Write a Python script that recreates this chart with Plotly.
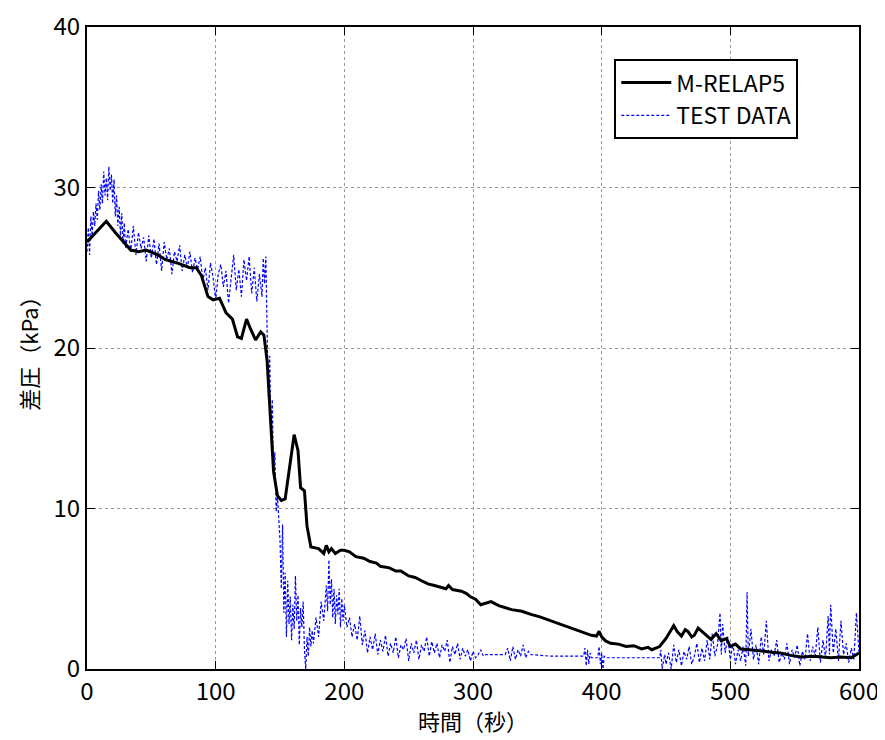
import plotly.graph_objects as go

# M-RELAP5 (black solid)
relap_t = [0, 6, 15, 22, 34, 40, 46, 55, 61, 70, 80, 85, 89, 94, 98, 103, 108, 113, 117, 120, 124,
           127, 131, 135, 137.5, 140, 143, 145, 148, 151, 154, 157, 161, 164, 166, 169, 171, 174,
           180, 184, 186, 188, 190, 193, 197, 200, 204, 209, 215, 220, 225, 228, 235, 240, 244, 250,
           255, 260, 265, 270, 275, 279, 281, 284, 291, 295, 298, 302, 306, 310, 314, 320, 330, 338,
           345, 352, 361, 368, 376, 384, 392, 396, 398, 400, 403, 407, 413, 419, 425, 431, 436, 439,
           445, 450, 456, 459, 462, 465, 467, 470, 472, 475, 477, 481, 485, 489, 493, 497, 500, 504,
           508, 515, 524, 532, 539, 547, 555, 565, 578, 586, 594, 600]
relap_y = [26.6, 27.1, 27.9, 27.2, 26.1, 26.0, 26.1, 25.8, 25.5, 25.3, 25.0, 25.0, 24.5, 23.2,
           23.0, 23.1, 22.2, 21.8, 20.7, 20.6, 21.8, 21.2, 20.5, 21.0, 20.8, 19.2, 15.4, 12.3, 10.8,
           10.5, 10.6, 12.3, 14.6, 13.6, 11.3, 11.1, 8.9, 7.6, 7.5, 7.2, 7.7, 7.3, 7.5, 7.2, 7.4,
           7.4, 7.3, 7.0, 6.9, 6.7, 6.6, 6.4, 6.3, 6.1, 6.1, 5.8, 5.7, 5.5, 5.3, 5.2, 5.1, 5.0, 5.2,
           4.95, 4.85, 4.7, 4.5, 4.35, 4.0, 4.1, 4.2, 3.95, 3.7, 3.6, 3.4, 3.25, 3.0, 2.8, 2.55,
           2.35, 2.1, 2.05, 2.35, 2.0, 1.75, 1.6, 1.55, 1.4, 1.45, 1.25, 1.35, 1.2, 1.4, 1.9, 2.7,
           2.3, 2.05, 2.45, 2.35, 2.0, 2.1, 2.55, 2.4, 2.1, 1.85, 2.2, 1.75, 1.9, 1.4, 1.55, 1.25,
           1.2, 1.1, 1.05, 1.0, 0.85, 0.75, 0.8, 0.7, 0.75, 0.7, 1.0]

# TEST DATA (blue dashed)
test_t = [0, 1, 2, 3, 4, 5, 6, 7, 8, 9, 10, 11, 12, 13, 14, 15, 16, 17, 18, 19, 20, 21, 22, 23, 24,
          25, 26, 27, 28, 29, 30, 32, 34, 36, 38, 40, 42, 44, 46, 48, 50, 52, 54, 56, 58, 60, 62, 64,
          66, 68, 70, 72, 74, 76, 78, 80, 82, 84, 86, 88, 90, 92, 94, 96, 98, 100, 102, 104, 106, 108,
          110, 112, 114, 116, 118, 120, 122, 124, 126, 128, 130, 132, 134, 136, 137, 138, 139, 140,
          141, 142, 143, 144, 145, 146, 147, 148, 149, 150, 151, 152, 153, 154, 155, 156, 157, 158,
          159, 160, 161, 162, 163, 164, 165, 166, 167, 168, 169, 170, 171, 172, 173, 174, 175, 176,
          178, 180, 182, 184, 186, 187, 188, 189, 190, 191, 192, 193, 194, 195, 196, 197, 198, 199,
          200, 202, 204, 206, 208, 210, 212, 214, 216, 218, 220, 222, 224, 226, 228, 230, 232, 234,
          236, 238, 240, 242, 244, 246, 248, 250, 252, 254, 256, 258, 260, 262, 264, 266, 268, 270,
          272, 274, 276, 278, 280, 282, 284, 286, 288, 290, 292, 294, 296, 298, 300, 302, 304, 306,
          308, 310, 325, 327, 329, 331, 333, 335, 337, 339, 341, 343, 345, 360, 375, 386, 387, 388,
          389, 390, 391, 392, 397, 398, 399, 400, 401, 402, 404, 420, 445, 446, 447, 449, 450, 452,
          454, 456, 458, 460, 462, 464, 466, 468, 470, 472, 474, 476, 478, 480, 482, 484, 486, 488,
          490, 492, 493, 494, 496, 498, 500, 502, 504, 506, 508, 510, 512, 513, 514, 516, 518, 520,
          522, 524, 526, 528, 530, 532, 534, 536, 538, 540, 542, 544, 546, 548, 550, 552, 554, 556,
          558, 560, 562, 564, 566, 568, 570, 572, 574, 576, 577, 578, 580, 582, 584, 586, 588, 590,
          592, 594, 596, 598, 600]
test_y = [26.0, 27.5, 25.8, 28.2, 27.0, 28.5, 27.6, 29.0, 28.0, 29.8, 28.6, 30.2, 29.0, 31.0, 29.5,
          30.6, 29.2, 31.3, 29.8, 30.8, 29.0, 30.5, 28.2, 29.5, 27.6, 28.8, 27.0, 28.4, 26.5, 27.8,
          26.2, 27.4, 26.0, 27.6, 25.8, 27.2, 26.2, 26.9, 25.4, 27.0, 25.6, 26.8, 25.2, 26.5, 24.8,
          26.6, 25.5, 26.2, 24.6, 26.0, 25.4, 26.4, 24.8, 25.8, 25.0, 26.0, 24.7, 25.6, 24.9, 25.7,
          24.2, 25.0, 23.6, 25.3, 24.4, 23.0, 24.6, 25.2, 23.8, 24.8, 22.8, 24.5, 25.8, 23.6, 24.9,
          23.2, 25.5, 24.2, 25.7, 23.4, 25.0, 22.9, 24.6, 23.2, 25.6, 24.0, 25.7, 21.0, 17.0, 19.5,
          14.5, 16.8, 12.0, 13.5, 9.8, 10.8, 9.3, 8.0, 5.0, 9.0, 3.5, 6.0, 2.0, 5.5, 2.8, 4.5, 1.8,
          4.0, 2.5, 5.8, 3.0, 4.6, 1.5, 3.8, 2.6, 4.2, 1.2, 0.0, 2.0, 0.8, 2.6, 1.4, 2.4, 1.6, 3.2,
          2.0, 4.2, 3.0, 5.2, 3.6, 6.8, 4.0, 5.6, 3.2, 5.0, 2.8, 4.6, 3.4, 5.0, 2.6, 4.4, 3.0, 4.0,
          2.6, 3.2, 2.0, 2.8, 1.8, 3.3, 1.5, 2.4, 1.0, 2.0, 1.2, 2.2, 0.9, 1.8, 1.1, 2.1, 0.8, 1.6,
          1.0, 2.0, 0.7, 1.5, 1.2, 1.9, 0.5, 1.6, 1.0, 1.8, 0.6, 1.5, 1.1, 2.0, 0.8, 1.7, 1.0, 1.6,
          0.7, 1.5, 1.1, 1.8, 0.4, 1.4, 0.9, 1.6, 0.6, 1.3, 0.8, 1.2, 0.5, 1.1, 0.7, 0.9, 1.2, 0.8,
          0.9, 0.9, 1.3, 0.5, 1.4, 0.6, 1.2, 0.8, 1.5, 0.7, 1.1, 0.9, 0.8, 0.8, 0.8, 1.3, 0.2, 1.2,
          0.3, 1.0, 0.7, 0.7, 1.4, 0.3, 1.0, 0.0, 0.8, 0.7, 0.7, 0.7, 1.2, 0.0, 0.9, 0.3, 1.0, 0.0,
          1.5, 0.4, 1.2, 0.2, 1.1, 0.6, 1.4, 0.3, 0.8, 1.6, 0.4, 1.3, 0.5, 1.8, 0.6, 2.2, 0.8, 1.5,
          3.5, 0.9, 2.8, 1.0, 2.0, 0.6, 1.6, 0.3, 1.2, 0.5, 1.4, 0.2, 4.8, 0.8, 2.5, 0.6, 1.5, 0.3,
          2.0, 0.9, 3.0, 0.5, 1.2, 0.8, 1.8, 0.4, 1.0, 0.6, 1.6, 0.3, 1.2, 0.7, 1.5, 0.2, 1.1, 0.6,
          2.2, 0.5, 1.4, 0.8, 2.6, 0.4, 1.8, 0.7, 3.3, 0.9, 4.0, 1.0, 2.5, 0.5, 3.0, 0.9, 1.6, 0.4,
          1.3, 0.6, 3.5, 1.0]

x_ticks = [0, 100, 200, 300, 400, 500, 600]
y_ticks = [0, 10, 20, 30, 40]

jp = "Noto Sans CJK JP"
tick_font = dict(family=jp, size=24, color="black")
leg_font = dict(family=jp, size=23, color="black")
title_font = dict(family=jp, size=22, color="black")

fig = go.Figure()
fig.add_trace(go.Scatter(x=test_t, y=test_y, mode="lines", name="TEST DATA",
                         line=dict(color="#0000ff", width=1.2, dash="3px,2px")))
fig.add_trace(go.Scatter(x=relap_t, y=relap_y, mode="lines", name="M-RELAP5",
                         line=dict(color="black", width=3)))

axis_common = dict(showgrid=True, gridcolor="#999999", griddash="dot", gridwidth=1,
                   showline=True, linecolor="black", linewidth=2, mirror="ticks",
                   ticks="inside", ticklen=8, tickcolor="black", tickwidth=1,
                   zeroline=False, automargin=False, ticklabeloverflow="allow",
                   tickfont=tick_font)

fig.update_layout(
    width=876, height=728,
    paper_bgcolor="white", plot_bgcolor="white",
    margin=dict(l=79, r=25, t=19, b=67, autoexpand=False),
    showlegend=True,
    legend=dict(x=0.683, y=0.95, xanchor="left", yanchor="top", traceorder="reversed",
                bgcolor="white", bordercolor="black", borderwidth=2,
                font=leg_font, itemwidth=50, tracegroupgap=0),
    xaxis=dict(range=[0, 600], tickvals=x_ticks,
               title=dict(text="時間（秒）", font=title_font, standoff=9),
               **axis_common),
    yaxis=dict(range=[0, 40], tickvals=y_ticks,
               title=dict(text="差圧（kPa）", font=title_font, standoff=9),
               **axis_common),
)

fig.write_html("out.html")
